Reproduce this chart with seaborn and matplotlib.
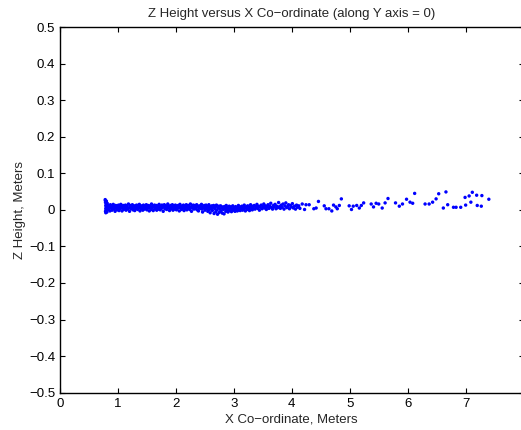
import matplotlib
matplotlib.use("Agg")
import matplotlib.pyplot as plt
import seaborn as sns
import pandas as pd

# ---- data ----
spike_x = [0.780, 0.785, 0.790, 0.790, 0.785, 0.790, 0.800, 0.800, 0.795, 0.805, 0.810, 0.815, 0.820, 0.783, 0.797]
spike_z = [0.028, 0.020, 0.012, 0.004, -0.004, -0.008, 0.024, 0.016, 0.000, 0.008, -0.006, 0.018, 0.002, 0.025, 0.010]

dense_x = [
    0.830, 0.841, 0.849, 0.862, 0.869, 0.881, 0.890, 0.898, 0.911, 0.919,
    0.930, 0.939, 0.951, 0.960, 0.968, 0.981, 0.989, 1.000, 1.010, 1.019,
    1.031, 1.040, 1.049, 1.061, 1.070, 1.078, 1.090, 1.100, 1.109, 1.121,
    1.129, 1.140, 1.151, 1.159, 1.170, 1.181, 1.189, 1.200, 1.211, 1.219,
    1.230, 1.241, 1.249, 1.260, 1.271, 1.279, 1.290, 1.301, 1.309, 1.320,
    1.331, 1.339, 1.350, 1.361, 1.369, 1.380, 1.391, 1.399, 1.410, 1.421,
    1.429, 1.440, 1.451, 1.459, 1.470, 1.481, 1.489, 1.500, 1.511, 1.519,
    1.530, 1.541, 1.549, 1.560, 1.571, 1.579, 1.590, 1.601, 1.609, 1.620,
    1.631, 1.639, 1.650, 1.661, 1.669, 1.680, 1.691, 1.699, 1.710, 1.721,
    1.729, 1.740, 1.751, 1.759, 1.770, 1.781, 1.789, 1.800, 1.811, 1.819,
    1.830, 1.841, 1.849, 1.860, 1.871, 1.879, 1.890, 1.901, 1.909, 1.920,
    1.931, 1.939, 1.950, 1.961, 1.969, 1.980, 1.991, 1.999, 2.010, 2.021,
    2.029, 2.040, 2.051, 2.059, 2.070, 2.081, 2.089, 2.100, 2.111, 2.119,
    2.130, 2.141, 2.149, 2.160, 2.171, 2.179, 2.190, 2.201, 2.209, 2.220,
    2.231, 2.239, 2.250, 2.261, 2.269, 2.280, 2.291, 2.299, 2.310, 2.321,
    2.329, 2.340, 2.351, 2.359, 2.370, 2.381, 2.389, 2.400, 2.411, 2.419,
    2.430, 2.441, 2.449, 2.460, 2.471, 2.479, 2.490, 2.501, 2.509, 2.520,
    2.531, 2.539, 2.550, 2.561, 2.569, 2.580, 2.591, 2.599, 2.610, 2.621,
    2.629, 2.640, 2.651, 2.659, 2.670, 2.681, 2.689, 2.700, 2.711, 2.719,
    2.730, 2.741, 2.749, 2.760, 2.771, 2.779, 2.790, 2.801, 2.809, 2.820,
    2.831, 2.839, 2.850, 2.861, 2.869, 2.880, 2.891, 2.899, 2.910, 2.921,
    2.929, 2.940, 2.951, 2.959, 2.970, 2.981, 2.989, 3.000, 3.011, 3.019,
    3.030, 3.041, 3.049, 3.060, 3.071, 3.079, 3.090, 3.101, 3.109, 3.120,
    3.131, 3.139, 3.150, 3.161, 3.169, 3.180, 3.191, 3.199, 3.210, 3.221,
    3.229, 3.240, 3.251, 3.259, 3.270, 3.281, 3.289, 3.300, 3.311, 3.319,
]
dense_z = [
    0.012, 0.001, 0.008, -0.003, 0.014, 0.005, 0.010, -0.001, 0.007, 0.015,
    0.002, 0.009, -0.004, 0.012, 0.004, 0.011, 0.000, 0.006, 0.013, -0.002,
    0.008, 0.003, 0.015, 0.010, -0.003, 0.006, 0.012, 0.001, 0.009, 0.004,
    0.013, -0.001, 0.007, 0.011, 0.002, 0.016, 0.005, -0.004, 0.009, 0.012,
    0.003, 0.008, 0.014, 0.000, 0.006, 0.011, -0.002, 0.010, 0.004, 0.013,
    0.007, 0.001, 0.012, 0.005, 0.015, -0.003, 0.009, 0.003, 0.011, 0.006,
    -0.001, 0.013, 0.008, 0.002, 0.010, 0.004, 0.014, 0.000, 0.007, 0.012,
    0.005, -0.003, 0.011, 0.009, 0.001, 0.016, 0.006, 0.010, -0.002, 0.008,
    0.013, 0.003, 0.007, 0.012, -0.001, 0.005, 0.011, 0.002, 0.015, 0.008,
    0.000, 0.010, 0.004, 0.013, 0.007, -0.004, 0.009, 0.014, 0.003, 0.006,
    0.011, 0.001, 0.008, 0.016, 0.005, 0.010, -0.002, 0.007, 0.012, 0.003,
    0.009, 0.014, -0.001, 0.006, 0.011, 0.002, 0.013, 0.008, 0.000, 0.010,
    0.004, 0.012, 0.007, -0.003, 0.015, 0.005, 0.009, 0.001, 0.011, 0.006,
    0.013, -0.002, 0.008, 0.003, 0.010, 0.014, 0.000, 0.007, 0.012, 0.004,
    0.009, 0.001, 0.016, 0.006, -0.004, 0.011, 0.005, 0.013, 0.002, 0.008,
    0.012, 0.003, 0.007, 0.014, 0.000, 0.010, -0.003, 0.006, 0.011, 0.004,
    0.008, 0.015, 0.002, -0.006, 0.009, 0.005, 0.012, -0.001, 0.007, 0.013,
    0.003, 0.010, -0.004, 0.006, 0.014, 0.001, -0.008, 0.009, 0.004, 0.011,
    -0.002, 0.007, 0.012, -0.010, 0.003, 0.008, -0.005, 0.013, 0.000, -0.012,
    0.006, 0.010, -0.007, 0.002, 0.011, -0.003, 0.005, -0.009, 0.008, 0.001,
    -0.011, 0.009, 0.004, -0.004, 0.012, 0.000, 0.006, -0.006, 0.003, 0.010,
    -0.002, 0.005, 0.008, -0.005, 0.002, 0.011, -0.001, 0.006, 0.003, -0.004,
    0.009, 0.001, 0.005, -0.003, 0.007, 0.012, 0.000, 0.004, -0.002, 0.008,
    0.002, 0.010, -0.001, 0.006, 0.003, 0.013, 0.007, -0.003, 0.005, 0.009,
    0.001, 0.011, 0.004, 0.008, -0.002, 0.006, 0.014, 0.003, 0.010, 0.000,
]

tail_x = [
    3.335, 3.352, 3.366, 3.381, 3.398, 3.410, 3.427, 3.441, 3.455, 3.472,
    3.488, 3.501, 3.517, 3.532, 3.546, 3.561, 3.578, 3.590, 3.606, 3.622,
    3.637, 3.651, 3.668, 3.683, 3.697, 3.712, 3.728, 3.741, 3.757, 3.772,
    3.789, 3.803, 3.818, 3.834, 3.850, 3.866, 3.881, 3.897, 3.912, 3.928,
    3.944, 3.960, 3.977, 3.994, 4.010, 4.028, 4.046, 4.064, 4.082, 4.100,
    4.120, 4.140,
]
tail_z = [
    0.006, 0.012, 0.002, 0.009, 0.015, 0.004, 0.010, -0.001, 0.007, 0.013,
    0.003, 0.009, 0.016, 0.005, 0.011, 0.001, 0.008, 0.014, 0.004, 0.010,
    0.018, 0.006, 0.002, 0.012, 0.008, 0.015, 0.003, 0.010, 0.006, 0.020,
    0.009, 0.004, 0.013, 0.007, 0.016, 0.002, 0.011, 0.019, 0.006, 0.009,
    0.014, 0.003, 0.012, 0.008, 0.017, 0.005, 0.010, 0.002, 0.013, 0.007,
    0.011, 0.004,
]

sparse_x = [
    4.18, 4.245, 4.30, 4.22, 4.38, 4.46, 4.42, 4.56, 4.59, 4.64,
    4.69, 4.72, 4.76, 4.785, 4.82, 4.855, 4.99, 5.03, 5.06, 5.12,
    5.165, 5.20, 5.24, 5.37, 5.41, 5.455, 5.50, 5.56, 5.61, 5.66,
    5.79, 5.855, 5.91, 5.98, 6.04, 6.086, 6.12, 6.30, 6.37, 6.43,
    6.49, 6.535, 6.615, 6.66, 6.69, 6.79, 6.835, 6.915, 6.99, 7.00,
    7.06, 7.09, 7.115, 7.19, 7.20, 7.27, 7.28, 7.40,
]
sparse_z = [
    0.016, 0.014, 0.014, 0.001, 0.003, 0.023, 0.005, 0.011, 0.003, 0.003,
    -0.003, 0.013, 0.008, 0.003, 0.012, 0.030, 0.011, 0.001, 0.010, 0.012,
    0.005, 0.012, 0.019, 0.016, 0.008, 0.018, 0.016, 0.005, 0.019, 0.031,
    0.019, 0.010, 0.016, 0.029, 0.021, 0.018, 0.045, 0.016, 0.016, 0.021,
    0.030, 0.044, 0.005, 0.049, 0.014, 0.007, 0.007, 0.007, 0.034, 0.013,
    0.038, 0.021, 0.048, 0.040, 0.012, 0.010, 0.039, 0.029,
]

x_ticks = [0, 1, 2, 3, 4, 5, 6, 7, 8]
y_ticks = [-0.5, -0.4, -0.3, -0.2, -0.1, 0.0, 0.1, 0.2, 0.3, 0.4, 0.5]
y_tick_labels = ["\u22120.5", "\u22120.4", "\u22120.3", "\u22120.2", "\u22120.1",
                 "0", "0.1", "0.2", "0.3", "0.4", "0.5"]

df = pd.DataFrame({
    "x": spike_x + dense_x + tail_x + sparse_x,
    "z": spike_z + dense_z + tail_z + sparse_z,
})

# ---- styling ----
sns.set_theme(style="ticks")
plt.rcParams["font.family"] = ["Liberation Sans", "DejaVu Sans"]
plt.rcParams["axes.unicode_minus"] = True

FS = 9.5
fig = plt.figure(figsize=(5.21, 4.30), dpi=100)
ax = fig.add_axes([60 / 521, (430 - 392.7) / 430, (523.6 - 60) / 521, (392.7 - 27) / 430])

sns.scatterplot(data=df, x="x", y="z", ax=ax, color=(0, 0, 1), s=6,
                linewidth=0, edgecolor="none", marker="o")

ax.set_xlim(0, 8)
ax.set_ylim(-0.5, 0.5)
ax.set_xticks(x_ticks)
ax.set_xticklabels([str(t) for t in x_ticks])
ax.set_yticks(y_ticks)
ax.set_yticklabels(y_tick_labels)

for sp in ax.spines.values():
    sp.set_visible(True)
    sp.set_color("black")
    sp.set_linewidth(1.0)

ax.tick_params(axis="both", which="both", direction="in", length=3.3, width=0.8,
               top=True, right=True, labelsize=FS, colors="black")
ax.tick_params(axis="x", pad=3.5)
ax.tick_params(axis="y", pad=3.5)

ax.set_title("Z Height versus X Co\u2212ordinate (along Y axis = 0)", fontsize=FS, pad=7.5)
ax.set_xlabel("X Co\u2212ordinate, Meters", fontsize=FS, labelpad=2.5)
ax.set_ylabel("Z Height, Meters", fontsize=FS, labelpad=2)

fig.savefig("out.png", dpi=100)
